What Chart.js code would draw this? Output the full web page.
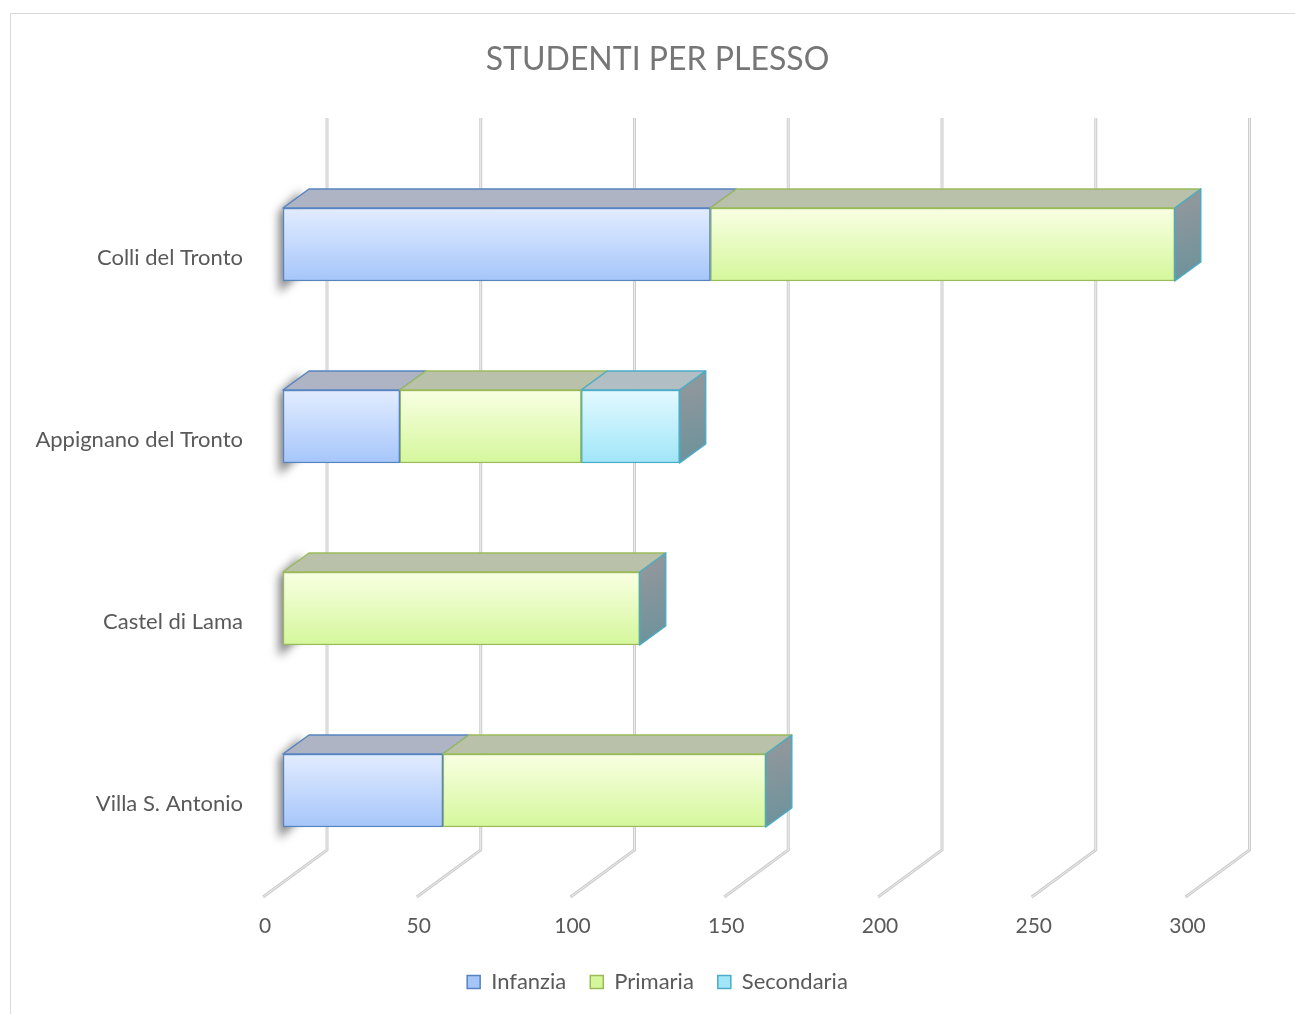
<!DOCTYPE html>
<html lang="it">
<head>
  <meta charset="UTF-8">
  <title>Studenti per plesso</title>
  <script src="https://cdn.jsdelivr.net/npm/chart.js"></script>
  <style>
    html, body { margin: 0; padding: 0; background: #fff; }
    #wrap { width: 1295px; height: 1014px; }
  </style>
</head>
<body>
  <div id="wrap"><canvas id="grafico" width="1295" height="1014"></canvas></div>

  <script>
    // Dati
    const plessi = ['Colli del Tronto', 'Appignano del Tronto', 'Castel di Lama', 'Villa S. Antonio'];
    const infanzia = [139, 38, null, 52];
    const primaria = [151, 59, 116, 105];
    const secondaria = [null, 32, null, null];
    const tickValori = [0, 50, 100, 150, 200, 250, 300];

    // Colori per serie: [fronte alto, fronte basso, bordo, faccia superiore]
    const colori = {
      Infanzia:   ['#e2ecff', '#a6c6fa', '#5684c0', '#aeb4c4'],
      Primaria:   ['#f8ffe2', '#d5f79c', '#9bbb59', '#b9c1aa'],
      Secondaria: ['#e3f9ff', '#a0e6f8', '#4bacc6', '#b1bfc4']
    };

    const DX = 26, DY = -19;      // profondità barra
    const WALL = 44;              // distanza piano barre -> parete di fondo
    const FX = -64, FY = 47;      // pavimento (dalla parete al bordo anteriore)
    const font = 'Lato, "Open Sans", sans-serif';

    function sfumatura(nome) {
      return function (c) {
        const chart = c.chart;
        if (!chart.chartArea || c.dataIndex == null) return colori[nome][1];
        const y = chart.scales.y.getPixelForValue(c.dataIndex);
        const g = chart.ctx.createLinearGradient(0, y - 36, 0, y + 36);
        g.addColorStop(0, colori[nome][0]);
        g.addColorStop(1, colori[nome][1]);
        return g;
      };
    }

    // Parete con griglia, ombre, facce 3D
    const effetto3d = {
      id: 'effetto3d',
      beforeDraw(chart) {
        const ctx = chart.ctx;
        ctx.save();
        ctx.fillStyle = '#fff';
        ctx.fillRect(0, 0, chart.width, chart.height);
        ctx.strokeStyle = '#d9d9d9';
        ctx.lineWidth = 1;
        ctx.strokeRect(10.5, 13.5, chart.width + 10, chart.height + 10);
        ctx.restore();
      },
      beforeDatasetsDraw(chart) {
        const ctx = chart.ctx;
        const xs = chart.scales.x;
        ctx.save();
        // griglia sulla parete di fondo e pavimento
        const yTop = 118, yBot = 850;
        tickValori.forEach(v => {
          const x = xs.getPixelForValue(v) + WALL;
          ctx.beginPath();
          ctx.moveTo(x, yTop);
          ctx.lineTo(x, yBot);
          ctx.lineTo(x + FX, yBot + FY);
          ctx.strokeStyle = '#cdcdcd';
          ctx.lineWidth = 3;
          ctx.stroke();
          ctx.strokeStyle = '#ececec';
          ctx.lineWidth = 1;
          ctx.stroke();
        });
        // ombre a sinistra delle barre
        const meta0 = chart.getDatasetMeta(0);
        meta0.data.forEach(bar => {
          const top = bar.y - bar.height / 2, bot = bar.y + bar.height / 2;
          const x0 = xs.getPixelForValue(0);
          ctx.save();
          ctx.filter = 'blur(5px)';
          ctx.fillStyle = 'rgba(0,0,0,0.5)';
          ctx.beginPath();
          ctx.moveTo(x0 - 4, top + 4);
          ctx.lineTo(x0 + DX - 8, top + DY + 2);
          ctx.lineTo(x0 + DX - 8, bot + DY + 10);
          ctx.lineTo(x0 - 4, bot + 12);
          ctx.closePath();
          ctx.fill();
          ctx.restore();
        });
        ctx.restore();
      },
      afterDatasetsDraw(chart) {
        const ctx = chart.ctx;
        ctx.save();
        ctx.lineJoin = 'round';
        const nomi = chart.data.datasets.map(d => d.label);
        plessi.forEach((p, i) => {
          let ultimo = null;
          chart.data.datasets.forEach((ds, k) => {
            const v = ds.data[i];
            if (!v) return;
            const bar = chart.getDatasetMeta(k).data[i];
            const top = bar.y - bar.height / 2;
            const c = colori[nomi[k]];
            ctx.beginPath();
            ctx.moveTo(bar.base, top);
            ctx.lineTo(bar.base + DX, top + DY);
            ctx.lineTo(bar.x + DX, top + DY);
            ctx.lineTo(bar.x, top);
            ctx.closePath();
            ctx.fillStyle = c[3];
            ctx.fill();
            ctx.strokeStyle = c[2];
            ctx.lineWidth = 1.5;
            ctx.stroke();
            ultimo = bar;
          });
          if (ultimo) {
            const top = ultimo.y - ultimo.height / 2, bot = ultimo.y + ultimo.height / 2;
            const g = ctx.createLinearGradient(ultimo.x, top, ultimo.x + DX, bot);
            g.addColorStop(0, '#8e979c');
            g.addColorStop(1, '#6b929b');
            ctx.beginPath();
            ctx.moveTo(ultimo.x, top);
            ctx.lineTo(ultimo.x + DX, top + DY);
            ctx.lineTo(ultimo.x + DX, bot + DY);
            ctx.lineTo(ultimo.x, bot);
            ctx.closePath();
            ctx.fillStyle = g;
            ctx.fill();
            ctx.strokeStyle = '#4bacc6';
            ctx.lineWidth = 1.5;
            ctx.stroke();
          }
        });
        ctx.restore();
      }
    };

    function serie(nome, valori) {
      return {
        label: nome,
        data: valori,
        backgroundColor: sfumatura(nome),
        borderColor: colori[nome][2],
        borderWidth: 1.5,
        borderSkipped: false,
        barThickness: 73
      };
    }

    new Chart(document.getElementById('grafico'), {
      type: 'bar',
      data: {
        labels: plessi,
        datasets: [
          serie('Infanzia', infanzia),
          serie('Primaria', primaria),
          serie('Secondaria', secondaria)
        ]
      },
      options: {
        indexAxis: 'y',
        responsive: false,
        animation: false,
        layout: { padding: { left: 20, right: 0, top: 0, bottom: 11 } },
        scales: {
          x: {
            stacked: true,
            min: 0,
            max: 1012 / 3.075,
            grid: { display: false },
            border: { display: false },
            ticks: {
              stepSize: 50,
              includeBounds: false,
              padding: 24,
              labelOffset: -18,
              color: '#595959',
              font: { family: font, size: 21 }
            },
            afterFit(s) { s.height = 65.5; }
          },
          y: {
            stacked: true,
            grid: { display: false },
            border: { display: false },
            ticks: {
              padding: 32,
              labelOffset: 13.5,
              color: '#595959',
              font: { family: font, size: 22 }
            },
            afterFit(s) { s.width = 263; }
          }
        },
        plugins: {
          title: {
            display: true,
            text: 'STUDENTI PER PLESSO',
            color: '#767676',
            font: { family: font, size: 32, weight: 'normal', lineHeight: 1.2 },
            padding: { top: 40, bottom: 75.1 }
          },
          legend: {
            position: 'bottom',
            labels: {
              boxWidth: 13,
              boxHeight: 13,
              padding: 24,
              color: '#595959',
              font: { family: font, size: 22 },
              generateLabels(chart) {
                return chart.data.datasets.map((ds, i) => ({
                  text: ds.label,
                  fillStyle: colori[ds.label][1],
                  strokeStyle: colori[ds.label][2],
                  lineWidth: 1.5,
                  fontColor: '#595959',
                  datasetIndex: i,
                  hidden: false
                }));
              }
            }
          },
          tooltip: { enabled: false }
        }
      },
      plugins: [effetto3d]
    });
  </script>
</body>
</html>
